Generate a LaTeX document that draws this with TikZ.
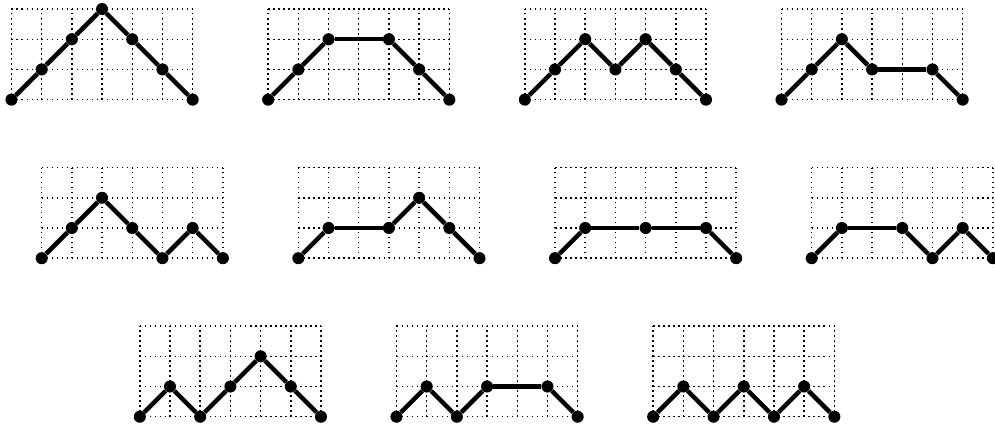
\documentclass[tikz,border=0pt]{standalone}
\usepackage{tikz}
\usepackage{amsmath,amssymb}

\begin{document}
\begin{tikzpicture}[x=1cm,y=1cm,
  dot/.style={circle,fill,inner sep=0pt,minimum size=4mm},
  gridline/.style={line width=1.4pt,dash pattern=on 1.4pt off 3.32pt},
  pathline/.style={line width=4.2pt}]
  \useasboundingbox (-0.38,-10.84) rectangle (32.57,3.30);
  % Paths: name / shift x / shift y / vertices
  \foreach \p/\sx/\sy/\pts in {
    a/0/0/{0/0,1/1,2/2,3/3,4/2,5/1,6/0},
    b/8.5/0/{0/0,1/1,2/2,4/2,5/1,6/0},
    c/17/0/{0/0,1/1,2/2,3/1,4/2,5/1,6/0},
    d/25.5/0/{0/0,1/1,2/2,3/1,5/1,6/0},
    e/1/-5.25/{0/0,1/1,2/2,3/1,4/0,5/1,6/0},
    f/9.5/-5.25/{0/0,1/1,3/1,4/2,5/1,6/0},
    g/18/-5.25/{0/0,1/1,3/1,5/1,6/0},
    h/26.5/-5.25/{0/0,1/1,3/1,4/0,5/1,6/0},
    i/4.25/-10.5/{0/0,1/1,2/0,3/1,4/2,5/1,6/0},
    j/12.75/-10.5/{0/0,1/1,2/0,3/1,5/1,6/0},
    k/21.25/-10.5/{0/0,1/1,2/0,3/1,4/0,5/1,6/0}} {
    \begin{scope}[shift={(\sx,\sy)}]
      % Grid
      \draw[gridline] (0,0) grid (6,3);
      % Vertices and steps
      \foreach \x/\y [count=\i, remember=\i as \j (initially 0)] in \pts {
        \node[dot] (\p\i) at (\x,\y) {};
        \ifnum\j>0
          \draw[pathline] (\p\j) -- (\p\i);
        \fi
      }
    \end{scope}
  }
\end{tikzpicture}
\end{document}
